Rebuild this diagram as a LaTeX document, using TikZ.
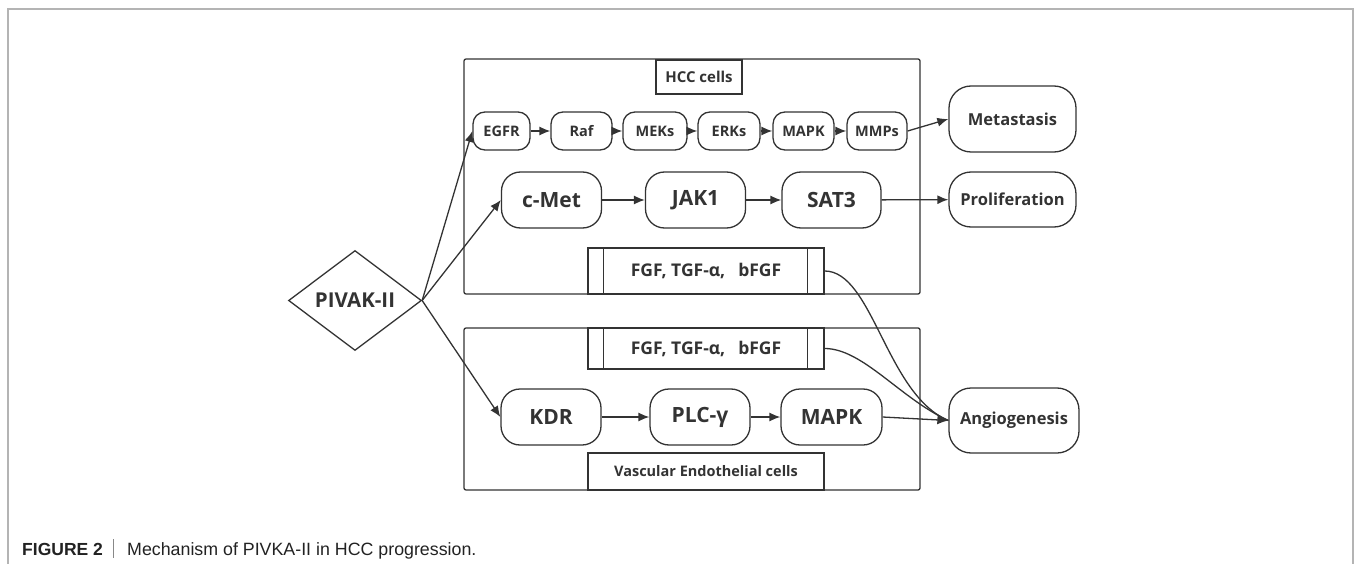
\documentclass[tikz,border=0pt]{standalone}
\usepackage{fontspec}
\setmainfont{Open Sans}
\newfontfamily\capfont{Liberation Sans}
\usetikzlibrary{arrows.meta,shapes.geometric}
\definecolor{ink}{HTML}{333333}
\definecolor{framegray}{HTML}{B4B4B4}
\definecolor{bargray}{HTML}{888888}
\definecolor{capink}{HTML}{222222}
\begin{document}
\begin{tikzpicture}[x=1pt,y=-1pt,
  every node/.style={text=ink, inner sep=0pt},
  sz/.style 2 args={minimum width=#1pt, minimum height=#2pt},
  fs/.style={font=\bfseries\fontsize{#1}{#1}\selectfont},
  container/.style={draw=ink, line width=1.3pt, rounded corners=2pt, rectangle},
  tagbox/.style={draw=ink, line width=1.3pt, rectangle, fill=white},
  sbox/.style={draw=ink, line width=1.3pt, rounded corners=12pt, rectangle, sz={#1}{38}, fs=14.5},
  bbox/.style={draw=ink, line width=1.3pt, rounded corners=19pt, rectangle, sz={#1}{56}, fs=21},
  obox/.style={draw=ink, line width=1.3pt, rounded corners=22pt, rectangle, fs=16.5},
  arr/.style={draw=ink, line width=1.3pt, -{Latex[length=11pt,width=9pt]}},
  link/.style={draw=ink, line width=1.3pt},
  thinl/.style={draw=ink, line width=1pt}]
\useasboundingbox (0,0) rectangle (1356,564);
\draw[framegray, line width=1.5pt] (8,564) -- (8,9) -- (1353,9) -- (1353,564);

% containers
\node[container, sz={456}{235}] (hcc) at (692,176.5) {};
\node[container, sz={456}{162}] (vec) at (692,409) {};
\node[tagbox, sz={86}{34}, fs=15] (hcclab) at (699,77) {HCC cells};
\node[tagbox, sz={236}{37}, fs=14.5] (veclab) at (706,471.5) {Vascular Endothelial cells};
\node[tagbox, sz={236}{46}, fs=17.5] (fgfa) at (706,271) {FGF, TGF-α,\hspace{13pt}bFGF};
\node[tagbox, sz={236}{41}, fs=17.5] (fgfb) at (706,348.5) {FGF, TGF-α,\hspace{13pt}bFGF};
\draw[thinl] ([xshift=16pt]fgfa.north west) -- ([xshift=16pt]fgfa.south west);
\draw[thinl] ([xshift=-17pt]fgfa.north east) -- ([xshift=-17pt]fgfa.south east);
\draw[thinl] ([xshift=16pt]fgfb.north west) -- ([xshift=16pt]fgfb.south west);
\draw[thinl] ([xshift=-17pt]fgfb.north east) -- ([xshift=-17pt]fgfb.south east);

% small row
\node[sbox=57] (egfr) at (501.5,131) {EGFR};
\node[sbox=61] (raf) at (581.5,131) {Raf};
\node[sbox=64] (meks) at (655,131) {MEKs};
\node[sbox=62] (erks) at (729,131) {ERKs};
\node[sbox=61] (mapka) at (803.5,131) {MAPK};
\node[sbox=60] (mmps) at (877,131) {MMPs};

% big rows
\node[bbox=100] (cmet) at (551.5,200) {c-Met};
\node[bbox=100] (jak) at (695.5,200) {JAK1};
\node[bbox=99] (sat) at (831.5,200) {SAT3};
\node[bbox=100] (kdr) at (551,417) {KDR};
\node[bbox=100] (plc) at (700,417) {PLC-γ};
\node[bbox=101] (mapkb) at (831.5,417) {MAPK};

% outcomes
\node[obox, sz={127}{66}] (meta) at (1012.5,119) {Metastasis};
\node[obox, sz={127}{55}] (prol) at (1012.5,199.5) {Proliferation};
\node[obox, sz={130}{65}] (angio) at (1014,420.5) {Angiogenesis};

% diamond
\node[draw=ink, line width=1.3pt, diamond, aspect=1.33, sz={133}{100}, fs=20.5] (pivak) at (355,300.5) {PIVAK-II};

% connectors
\draw[arr] (pivak.east) -- (egfr.west);
\draw[arr] (pivak.east) -- (cmet.west);
\draw[arr] (pivak.east) -- (kdr.west);
\draw[arr] (egfr) -- (raf);
\draw[arr] (raf) -- (meks);
\draw[arr] (meks) -- (erks);
\draw[arr] (erks) -- (mapka);
\draw[arr] (mapka) -- (mmps);
\draw[arr] (mmps.east) -- (meta.west);
\draw[arr] (cmet) -- (jak);
\draw[arr] (jak) -- (sat);
\draw[arr] (sat) -- (prol);
\draw[arr] (kdr) -- (plc);
\draw[arr] (plc) -- (mapkb);
\draw[link] (fgfa.east) .. controls +(48,0) and +(-62,-26) .. (angio.west);
\draw[link] (fgfb.east) .. controls +(38,0) and +(-48,-22) .. (angio.west);
\draw[arr] (mapkb.east) -- (angio.west);

% caption
\node[anchor=base west, font=\capfont\bfseries\fontsize{17.5}{20}\selectfont, text=capink] (fig) at (22,555) {FIGURE 2};
\coordinate (bartop) at (113,539);
\coordinate (barbot) at (113,558);
\draw[bargray, line width=1pt] (bartop) -- (barbot);
\node[anchor=base west, font=\capfont\fontsize{17.8}{20}\selectfont, text=capink] (captext) at (127,555) {Mechanism of PIVKA-II in HCC progression.};
\end{tikzpicture}
\end{document}
